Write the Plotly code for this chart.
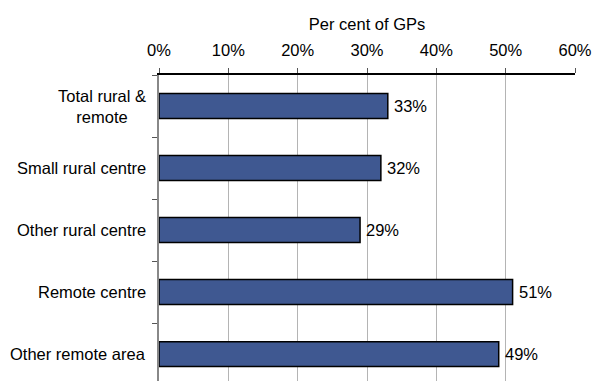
import plotly.graph_objects as go

# Share of GPs by rural/remote classification
categories = ["Total rural &<br>remote", "Small rural centre", "Other rural centre",
              "Remote centre", "Other remote area"]
values = [33, 32, 29, 51, 49]
tick_vals = [0, 10, 20, 30, 40, 50, 60]
tick_text = ["0%", "10%", "20%", "30%", "40%", "50%", "60%"]

FONT = "Liberation Sans, Arial, sans-serif"
FS = 16.5
BAR = "#3F5891"

idx = list(range(len(categories)))

fig = go.Figure(go.Bar(
    x=values,
    y=idx,
    orientation="h",
    width=0.4,
    marker=dict(color=BAR, line=dict(color="black", width=1.5)),
    cliponaxis=False,
))

# value labels just past the end of each bar
for i, v in zip(idx, values):
    fig.add_annotation(
        x=v, xref="x", y=i, yref="y",
        text=f"{v}%", showarrow=False, xanchor="left", yanchor="middle",
        xshift=4, font=dict(family=FONT, size=FS, color="black"),
    )

# category labels, centred line-by-line and right-aligned to the axis
for i, c in zip(idx, categories):
    fig.add_annotation(
        x=0, xref="paper", y=i, yref="y",
        text=c, showarrow=False, xanchor="right", yanchor="middle",
        align="center", xshift=-11,
        font=dict(family=FONT, size=FS, color="black"),
    )

fig.update_layout(
    width=592, height=381,
    margin=dict(l=159, r=17, t=75, b=0),
    paper_bgcolor="white", plot_bgcolor="white",
    showlegend=False,
    font=dict(family=FONT, size=FS, color="black"),
    xaxis=dict(
        side="top", range=[0, 60], tickvals=tick_vals, ticktext=tick_text,
        showgrid=True, gridcolor="#B4B4B4", gridwidth=1,
        showline=True, linecolor="black", linewidth=1.5,
        ticks="outside", ticklen=5, tickcolor="#555555",
        ticklabelstandoff=6,
        tickfont=dict(family=FONT, size=FS, color="black"),
        title=dict(text="Per cent of GPs", standoff=6,
                   font=dict(family=FONT, size=FS, color="black")),
        zeroline=False,
    ),
    yaxis=dict(
        range=[4.435, -0.5], tickvals=[-0.5, 0.5, 1.5, 2.5, 3.5, 4.5],
        showticklabels=False,
        ticks="outside", ticklen=5, tickcolor="#555555",
        showgrid=False, zeroline=False,
        showline=True, linecolor="#888888", linewidth=1.5,
    ),
)

fig.write_html("out.html")
